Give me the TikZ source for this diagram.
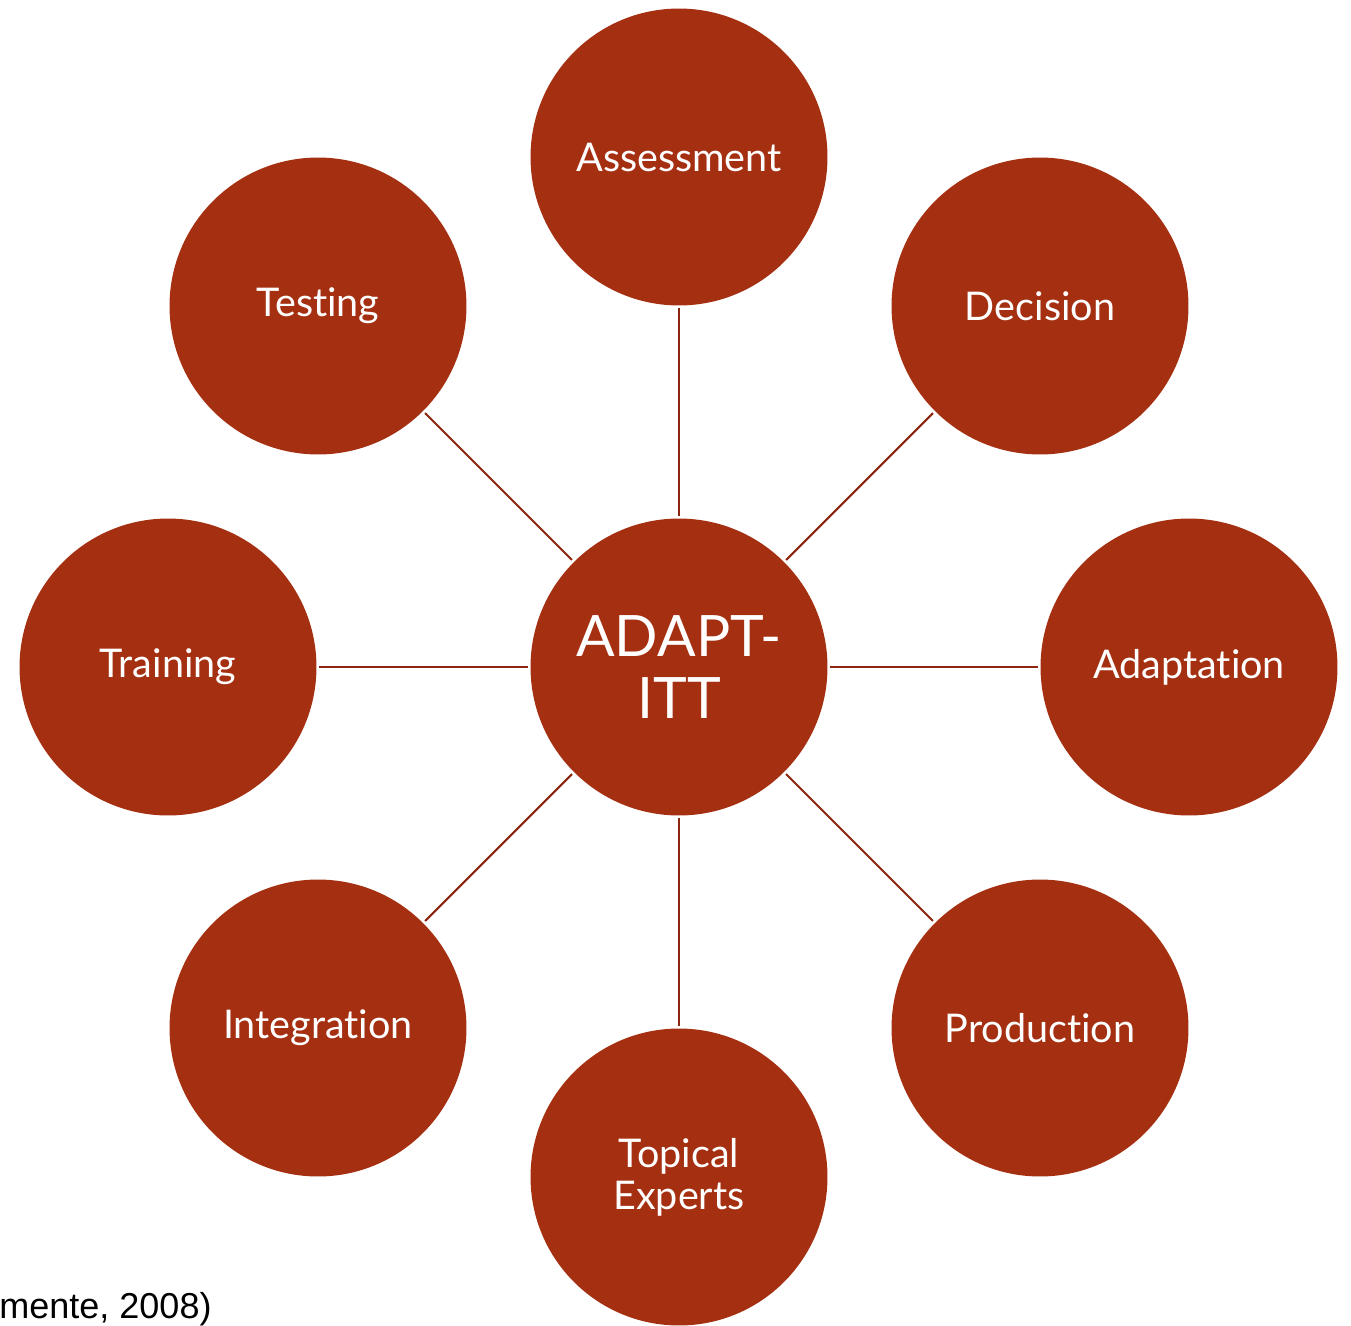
\documentclass[tikz,border=0pt]{standalone}
\usepackage{fontspec}
\setmainfont{Lato}[Ligatures=NoCommon]
\newfontfamily\citefont{Liberation Sans}
\definecolor{disc}{RGB}{165,47,17}
\definecolor{link}{RGB}{140,38,14}
\begin{document}
\begin{tikzpicture}[x=0.02cm,y=-0.02cm,
  disc/.style={circle,fill=disc,draw=none,minimum size=5.94cm,inner sep=0pt,outer sep=0pt,
    text=white,font=\fontsize{22.5}{24}\selectfont,align=center},
  link/.style={draw=link,line width=1.2pt,shorten <=0.06cm,shorten >=0.06cm}]
\useasboundingbox (0,0) rectangle (1351,1325);
\node[disc,font=\fontsize{32.5}{35.5}\selectfont] (c) at (679,667) {ADAPT-\\ITT};
\node[disc] (as) at (679,157) {Assessment};
\node[disc] (te) at (318,306) {Testing};
\node[disc] (de) at (1040,306) {Decision};
\node[disc] (tr) at (168,667) {Training};
\node[disc] (ad) at (1189,667) {Adaptation};
\node[disc] (in) at (318,1028) {Integration};
\node[disc] (pr) at (1040,1028) {Production};
\node[disc] (to) at (679,1177) {Topical\\Experts};
\foreach \n in {as,te,de,tr,ad,in,pr,to} \draw[link] (c) -- (\n);
\node[anchor=base west,inner sep=0pt,font=\citefont\fontsize{20.5}{24}\selectfont] (cite) at (-1,1318) {mente, 2008)};
\end{tikzpicture}
\end{document}
